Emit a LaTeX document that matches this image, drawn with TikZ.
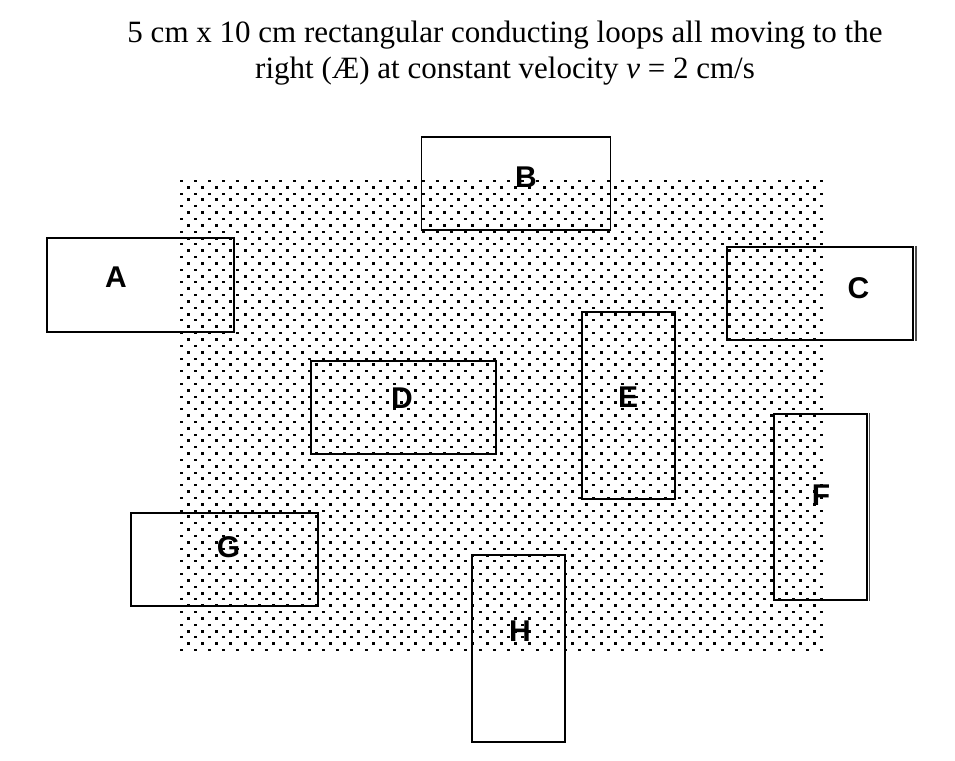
\documentclass[tikz,border=0pt]{standalone}
\usepackage{fontspec}
\setmainfont{Liberation Serif}
\newfontfamily\labfont{Liberation Sans Bold}
\tikzset{
  loop/.style={draw=black, line width=1.8pt, inner sep=0pt, fill=none},
  lab/.style={font=\labfont\fontsize{30}{30}\selectfont, inner sep=0pt},
  ttl/.style={font=\fontsize{31}{36}\selectfont, inner sep=0pt, anchor=base},
  edge2/.style={draw=black!70, line width=1.2pt}
}
\begin{document}
\begin{tikzpicture}[x=1pt,y=-1pt]
\useasboundingbox (0,0) rectangle (955,760);
\fill[white] (0,0) rectangle (955,760);
% title
\node[ttl] (t1) at (505,42) {5 cm x 10 cm rectangular conducting loops all moving to the};
\node[ttl] (t2) at (505,78) {right (Æ) at constant velocity \textit{v} = 2 cm/s};
% labels
\node[lab] (la) at (116,277.5) {A};
\node[lab] (lb) at (526,177) {B};
\node[lab] (lc) at (858.5,288) {C};
\node[lab] (ld) at (402,398.5) {D};
\node[lab] (le) at (628,397) {E};
\node[lab] (lf) at (821,495) {F};
\node[lab] (lg) at (228.5,547) {G};
\node[lab] (lh) at (520,631) {H};
% dotted field: rows of short dashes and rows of square dots
\foreach \k in {0,...,37}{
  \pgfmathtruncatemacro\yd{round(180+12.68*\k)}
  \foreach \j in {0,...,45}{
    \pgfmathtruncatemacro\xd{round(179.5+14.24*\j)}
    \fill[black] (\xd, \yd) rectangle ++(3,1.5);
  }
}
\foreach \k in {0,...,36}{
  \pgfmathtruncatemacro\ys{round(185.8+12.68*\k)}
  \foreach \j in {0,...,44}{
    \pgfmathtruncatemacro\xs{round(186.6+14.24*\j)}
    \fill[black] (\xs, \ys) rectangle ++(3,3);
  }
}
% loops
\node[loop, minimum width=187pt, minimum height=93.5pt] (A) at (140.5,285) {};
\node[loop, minimum width=189pt, minimum height=93pt] (B) at (516,183.5) {};
\node[loop, minimum width=186pt, minimum height=93.3pt] (C) at (819.7,293.3) {};
\node[loop, minimum width=185.3pt, minimum height=93pt] (D) at (403.3,407.2) {};
\node[loop, minimum width=93pt, minimum height=186.7pt] (E) at (628.5,405.3) {};
\node[loop, minimum width=92.7pt, minimum height=186pt] (F) at (820.3,507) {};
\node[loop, minimum width=187pt, minimum height=92.7pt] (G) at (224.5,559.7) {};
\node[loop, minimum width=93.3pt, minimum height=186.7pt] (H) at (518.3,648.7) {};
% doubled right edges
\draw[edge2] ([xshift=2.4pt]C.north east) -- ([xshift=2.4pt]C.south east);
\draw[edge2] ([xshift=2pt]F.north east) -- ([xshift=2pt]F.south east);
\end{tikzpicture}
\end{document}
